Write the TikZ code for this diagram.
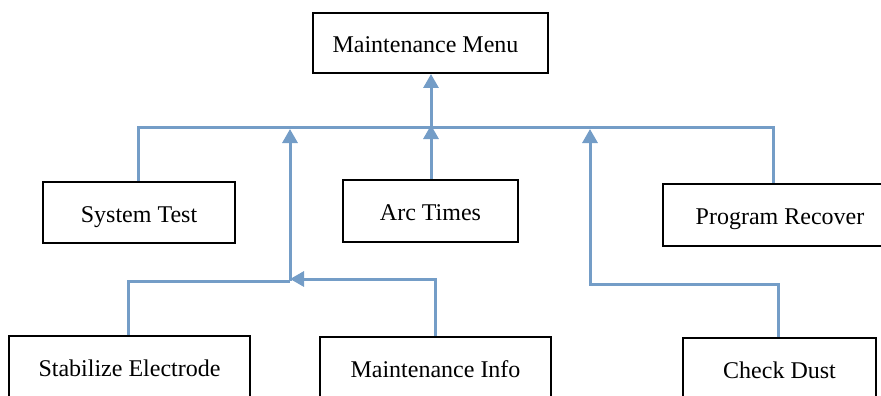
\documentclass[tikz,border=0pt]{standalone}
\usepackage{fontspec}
\setmainfont{Liberation Serif}
\usetikzlibrary{arrows.meta}
\definecolor{linkblue}{RGB}{116,157,199}
\tikzset{
  box/.style={draw=black, line width=2pt, fill=white, rectangle, inner sep=0pt,
    font=\fontsize{24}{28}\selectfont, text height=19pt, text depth=0pt},
  lowbox/.style={box, text height=0pt, text depth=0pt, minimum height=80pt},
  link/.style={draw=linkblue, line width=3pt},
  tip/.style={-{Triangle[width=15pt,length=14pt]}}
}
\begin{document}
\begin{tikzpicture}[x=1pt,y=-1pt]
\useasboundingbox (0,0) rectangle (881,396);
\clip (0,0) rectangle (881,396);
% boxes
\node[box, minimum width=235pt, minimum height=60pt] (mm) at (430.5,43) {\hspace*{-10pt}Maintenance Menu};
\node[box, minimum width=192pt, minimum height=61pt] (st) at (139,212.5) {System Test};
\node[box, minimum width=175pt, minimum height=62pt] (at) at (430.5,211) {Arc Times};
\node[box, minimum width=234pt, minimum height=62pt] (pr) at (780,215) {Program Recover};
\node[lowbox, minimum width=241pt] (se) at (129.5,376) {Stabilize Electrode};
\node[lowbox, minimum width=231pt] (mi) at (435.5,377) {Maintenance Info};
\node[lowbox, minimum width=193pt] (cd) at (779.5,378) {Check Dust};
% junction coordinates
\coordinate (bL) at (138,127);
\coordinate (bR) at (773,127);
\coordinate (bA) at (431,127);
\coordinate (b1) at (290,129);
\coordinate (b2) at (590,129);
\coordinate (j1) at (290,279);
\coordinate (sL) at (128,281);
\coordinate (j2) at (590,284);
% connectors
\draw[link] (bL |- st.north) -- (bL) -- (bR) -- (bR |- pr.north);
\draw[link, tip] (at.north -| bA) -- ([yshift=2pt]bA);
\draw[link, tip] (bA) -- (bA |- mm.south);
\draw[link] (sL |- se.north) -- (sL) -- (sL -| j1);
\draw[link, tip] (mi.north) |- (j1);
\draw[link, tip] (j1 |- sL) -- (b1);
\draw[link, tip] (cd.north -| 778,0) |- (j2) -- (b2);
\end{tikzpicture}
\end{document}
